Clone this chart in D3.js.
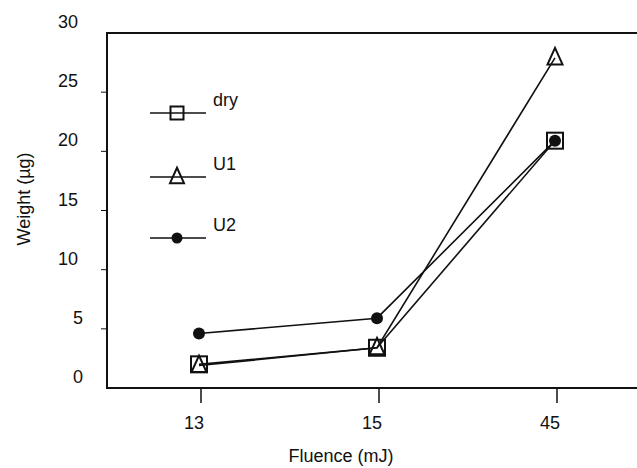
<!DOCTYPE html>
<html>
<head>
<meta charset="utf-8">
<script src="https://cdn.jsdelivr.net/npm/d3@7"></script>
<style>
  body { margin: 0; background: #fff; }
  text { font-family: "Liberation Sans", Arial, sans-serif; fill: #111; }
</style>
</head>
<body>
<svg id="chart" width="637" height="468"></svg>
<script>
// data
const fluence = ["13", "15", "45"];
const dry = [2.0, 3.4, 20.9];
const u1 = [1.9, 3.4, 27.9];
const u2 = [4.6, 5.9, 20.9];
const yTicks = [0, 5, 10, 15, 20, 25, 30];
const seriesNames = ["dry", "U1", "U2"];

const svg = d3.select("#chart");
const plotLeft = 107, plotTop = 33, plotBottom = 388, plotRight = 640;

const x = d3.scalePoint().domain(fluence).range([199, 555]);
const y = d3.scaleLinear().domain([0, 30]).range([plotBottom, plotTop]);

// frame: left, top, bottom (right side runs off the page)
svg.append("path")
  .attr("d", `M${plotRight},${plotTop}H${plotLeft}V${plotBottom}H${plotRight}`)
  .attr("fill", "none").attr("stroke", "#111").attr("stroke-width", 2);

// y axis ticks + labels
const yAx = svg.append("g");
yAx.selectAll("line").data(yTicks.slice(1, -1)).join("line")
  .attr("x1", plotLeft - 6).attr("x2", plotLeft)
  .attr("y1", d => y(d)).attr("y2", d => y(d))
  .attr("stroke", "#111").attr("stroke-width", 1);
yAx.selectAll("text").data(yTicks).join("text")
  .attr("x", d => d < 10 ? 83 : 78)
  .attr("y", d => y(d) - 5)
  .attr("text-anchor", "end")
  .style("font-size", "18px")
  .text(d => d);

// x axis ticks + labels
const xAx = svg.append("g");
xAx.selectAll("line").data(fluence).join("line")
  .attr("x1", d => x(d) + 2).attr("x2", d => x(d) + 2)
  .attr("y1", plotBottom).attr("y2", plotBottom + 15)
  .attr("stroke", "#111").attr("stroke-width", 1.5);
xAx.selectAll("text").data(fluence).join("text")
  .attr("x", d => x(d) - 5)
  .attr("y", 429)
  .attr("text-anchor", "middle")
  .style("font-size", "18px")
  .text(d => d);

// axis titles
svg.append("text")
  .attr("x", 341).attr("y", 462)
  .attr("text-anchor", "middle")
  .style("font-size", "18px")
  .text("Fluence (mJ)");
svg.append("text")
  .attr("transform", "translate(30,199) rotate(-90)")
  .attr("text-anchor", "middle")
  .style("font-size", "18px")
  .text("Weight (\u00b5g)");

// marker helpers
function square(g, cx, cy, s) {
  g.append("rect")
    .attr("x", cx - s / 2).attr("y", cy - s / 2)
    .attr("width", s).attr("height", s)
    .attr("fill", "none").attr("stroke", "#111").attr("stroke-width", 2);
}
function triangle(g, cx, cy, s) {
  const h = s * 1.1;
  g.append("path")
    .attr("d", `M${cx},${cy - h * 0.6}L${cx + s / 2},${cy + h * 0.4}L${cx - s / 2},${cy + h * 0.4}Z`)
    .attr("fill", "none").attr("stroke", "#111").attr("stroke-width", 2);
}
function dot(g, cx, cy, s) {
  g.append("circle")
    .attr("cx", cx).attr("cy", cy).attr("r", s / 2)
    .attr("fill", "#111");
}

const line = d3.line().x((d, i) => x(fluence[i])).y(d => y(d));
const series = [
  { name: "dry", values: dry, mark: square, size: 16, legSize: 13 },
  { name: "U1", values: u1, mark: triangle, size: 15, legSize: 14 },
  { name: "U2", values: u2, mark: dot, size: 12, legSize: 11 }
];

const plot = svg.append("g");
series.forEach(s => {
  plot.append("path")
    .attr("d", line(s.values))
    .attr("fill", "none").attr("stroke", "#111").attr("stroke-width", 1.6);
});
series.forEach(s => {
  s.values.forEach((v, i) => s.mark(plot, x(fluence[i]), y(v), s.size));
});

// legend
const legY = [113, 177, 238];
const lg = svg.append("g");
series.forEach((s, i) => {
  lg.append("line")
    .attr("x1", 150).attr("x2", 206)
    .attr("y1", legY[i]).attr("y2", legY[i])
    .attr("stroke", "#111").attr("stroke-width", 1.6);
  s.mark(lg, 177, legY[i], s.legSize);
  lg.append("text")
    .attr("x", 213).attr("y", legY[i] - 7)
    .style("font-size", "18px")
    .text(seriesNames[i]);
});
</script>
</body>
</html>
